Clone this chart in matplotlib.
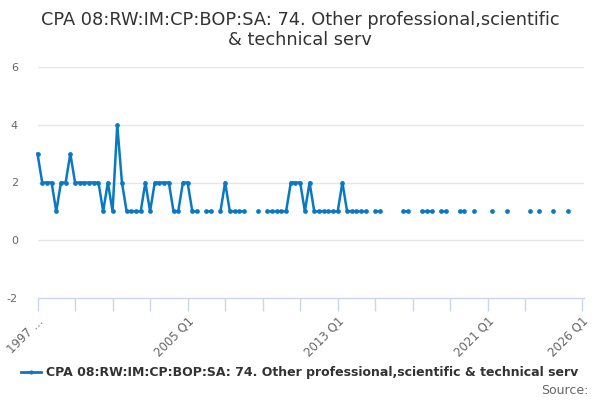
import numpy as np
import matplotlib
matplotlib.use("Agg")
import matplotlib.pyplot as plt
from matplotlib.lines import Line2D

# Quarterly categories 1997 Q1 .. 2026 Q1
quarters = [f"{y} Q{q}" for y in range(1997, 2027) for q in range(1, 5)][:117]

# Values (None = missing)
values = [
    3, 2, 2, 2, 1, 2, 2, 3, 2, 2,
    2, 2, 2, 2, 1, 2, 1, 4, 2, 1,
    1, 1, 1, 2, 1, 2, 2, 2, 2, 1,
    1, 2, 2, 1, 1, None, 1, 1, None, 1,
    2, 1, 1, 1, 1, None, None, 1, None, 1,
    1, 1, 1, 1, 2, 2, 2, 1, 2, 1,
    1, 1, 1, 1, 1, 2, 1, 1, 1, 1,
    1, None, 1, 1, None, None, None, None, 1, 1,
    None, None, 1, 1, 1, None, 1, 1, None, None,
    1, 1, None, 1, None, None, None, 1, None, None,
    1, None, None, None, None, 1, None, 1, None, None,
    1, None, None, 1,
]

tick_positions = [0, 8, 16, 24, 32, 40, 48, 56, 64, 72, 80, 88, 96, 104, 116]
tick_labels = ["1997 …", "", "", "", "2005 Q1", "", "", "", "2013 Q1", "", "", "", "2021 Q1", "", "2026 Q1"]
y_ticks = [-2, 0, 2, 4, 6]

title = "CPA 08:RW:IM:CP:BOP:SA: 74. Other professional,scientific\n& technical serv"
series_name = "CPA 08:RW:IM:CP:BOP:SA: 74. Other professional,scientific & technical serv"

color = "#0a78c2"
axis_color = "#ccd6eb"
grid_color = "#e6e6e6"
label_color = "#666666"

fig = plt.figure(figsize=(6, 4), dpi=100)
ax = fig.add_axes([0.0625, 0.255, 0.91, 0.5775])

x = np.arange(len(values))
y = np.array([np.nan if v is None else v for v in values], dtype=float)
ax.plot(x, y, color=color, lw=1.8, marker="o", ms=3.4, mew=0, clip_on=False, zorder=3)

ax.set_xlim(0, 116.4)
ax.set_ylim(-2, 6)
ax.set_yticks(y_ticks)
ax.set_yticklabels([str(v) for v in y_ticks])
for v in y_ticks[1:]:
    ax.axhline(v, color=grid_color, lw=1, zorder=0)

ax.set_xticks(tick_positions)
ax.set_xticklabels(tick_labels, rotation=45, ha="right", va="top", rotation_mode="anchor")
ax.tick_params(axis="x", length=9, width=1, color=axis_color, labelcolor=label_color,
               labelsize=8.5, pad=3)
ax.tick_params(axis="y", length=0, labelcolor=label_color, labelsize=8, pad=14)

for s in ["top", "right", "left"]:
    ax.spines[s].set_visible(False)
ax.spines["bottom"].set_color(axis_color)
ax.spines["bottom"].set_linewidth(1)

fig.text(0.5, 0.972, title, ha="center", va="top", fontsize=12.8, color="#333333",
         linespacing=1.12)

handle = Line2D([0], [0], color=color, lw=2, marker="o", ms=3, mew=0)
fig.legend([handle], [series_name], loc="center", bbox_to_anchor=(0.5, 0.068),
           frameon=False, prop={"size": 9, "weight": "bold"}, labelcolor="#333333",
           handlelength=1.6, handletextpad=0.4)
fig.text(0.98, 0.025, "Source:", ha="right", va="center", fontsize=9, color=label_color)

fig.savefig("out.png", dpi=100)
